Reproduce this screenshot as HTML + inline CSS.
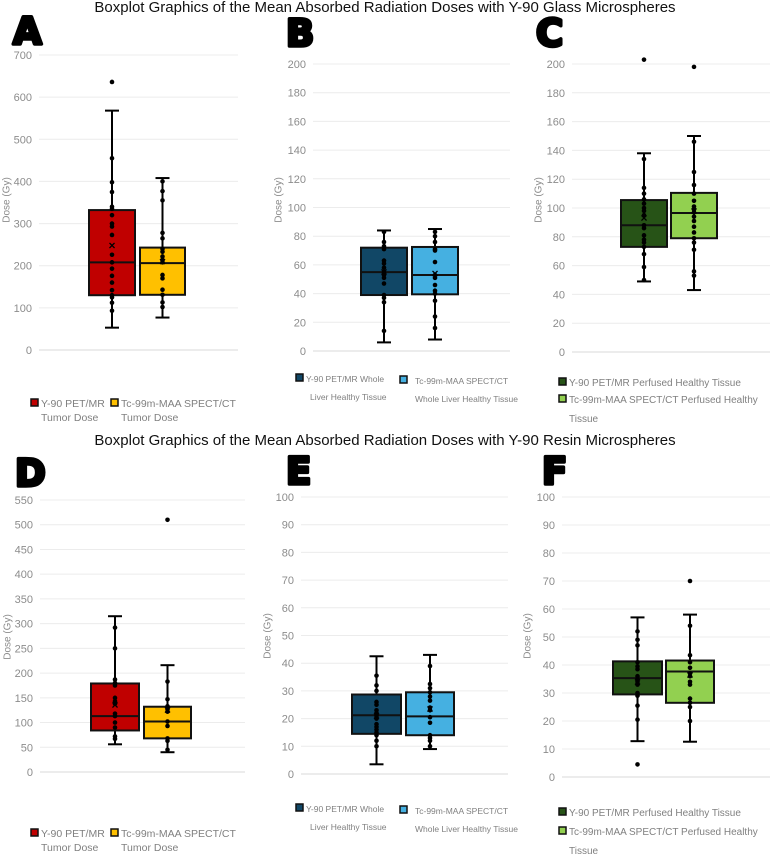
<!DOCTYPE html>
<html><head><meta charset="utf-8"><style>
body{margin:0;background:#fff;width:770px;height:854px;overflow:hidden;font-family:"Liberation Sans",sans-serif}
svg{position:absolute;left:0;top:0}
</style></head><body>
<svg id="fig" width="770" height="854" xmlns="http://www.w3.org/2000/svg">
<text x="385" y="12" text-anchor="middle" font-size="15" fill="#111">Boxplot Graphics of the Mean Absorbed Radiation Doses with Y-90 Glass Microspheres</text>
<text x="385" y="445" text-anchor="middle" font-size="15" fill="#111">Boxplot Graphics of the Mean Absorbed Radiation Doses with Y-90 Resin Microspheres</text>
</svg>
<script>
// ---- data ----
const aRedStats=[53,130,208,332,568]; const aRedMean=[248];
const aRedPts=[93,112,125,130,142,160,176,193,208,226,273,293,300,320,335,340,375,398,455]; const aRedOut=[636];
const aYelStats=[77,131,206,243,408]; const aYelMean=[210];
const aYelPts=[102,113,131,143,170,178,208,213,222,233,240,265,278,355,377,400]; const aYelOut=[];
const bDarkStats=[6,39,55,72,84]; const bDarkMean=[55];
const bDarkPts=[14,34,37,39,47,51,53,55,58,61,63,71,73,76,83]; const bDarkOut=[];
const bLightStats=[8,39.5,53,72.5,85]; const bLightMean=[54];
const bLightPts=[16,24,35,40,42,46,51,53,62,70,71,76,80,83]; const bLightOut=[];
const cDarkStats=[49,73,88,105.5,138]; const cDarkMean=[93];
const cDarkPts=[50,59,68,73,76,78,81,86,88,95,98,100,103,106,110,114,134]; const cDarkOut=[203];
const cLightStats=[43,79,96.5,110.5,150]; const cLightMean=[98];
const cLightPts=[53,56,71,76,79,83,87,91,94,97,99,101,105,110,116,125,146]; const cLightOut=[198];
const dRedStats=[56,84,113,179,315]; const dRedMean=[135];
const dRedPts=[67,72,90,100,113,118,138,143,150,175,180,187,250,292]; const dRedOut=[];
const dYelStats=[40,68,102,132,216]; const dYelMean=[125];
const dYelPts=[45,63,68,93,102,122,127,133,147,183]; const dYelOut=[510];
const eDarkStats=[3.5,14.5,21.2,28.7,42.5]; const eDarkMean=[21];
const eDarkPts=[10,12,14,15,16,17,18,20,21,22,23,25,26,30,32,35.5]; const eDarkOut=[];
const eLightStats=[9,14,20.8,29.5,43]; const eLightMean=[23.5];
const eLightPts=[10,12,13,14,18.5,20.5,23,24,26.5,28,29.5,31,32.5,39]; const eLightOut=[];
const fDarkStats=[12.8,29.5,35.3,41.3,57]; const fDarkMean=[34];
const fDarkPts=[20.5,25.5,29,30,33,34,35,36,38.5,39.5,41,47,49,52]; const fDarkOut=[4.5];
const fLightStats=[12.6,26.5,37.7,41.6,58]; const fLightMean=[36.5];
const fLightPts=[20,25,26.5,28,33,34,36,37,39,41,43.5,54]; const fLightOut=[70];

const NS="http://www.w3.org/2000/svg";
const svg=document.getElementById('fig');
function mk(tag,attrs,parent){const e=document.createElementNS(NS,tag);for(const k in attrs)e.setAttribute(k,attrs[k]);(parent||svg).appendChild(e);return e;}

const panels=[
 {id:'a',letter:'A',lx:12,ly:45,left:39,right:238,y0:350,yTop:55,max:700,step:100,titleX:7,titleY:200,
  boxes:[[89,135,'#C00000',aRedStats,aRedMean,aRedPts,aRedOut],[140,185,'#FFC000',aYelStats,aYelMean,aYelPts,aYelOut]]},
 {id:'b',letter:'B',lx:285,ly:47,left:313,right:510,y0:351,yTop:64,max:200,step:20,titleX:279,titleY:200,
  boxes:[[361,407,'#114766',bDarkStats,bDarkMean,bDarkPts,bDarkOut],[412,458,'#45B0E1',bLightStats,bLightMean,bLightPts,bLightOut]]},
 {id:'c',letter:'C',lx:535,ly:47,left:572,right:770,y0:352,yTop:64,max:200,step:20,titleX:539,titleY:200,
  boxes:[[621,667,'#275317',cDarkStats,cDarkMean,cDarkPts,cDarkOut],[671,717,'#92D050',cLightStats,cLightMean,cLightPts,cLightOut]]},
 {id:'d',letter:'D',lx:14,ly:487,left:40,right:245,y0:772,yTop:500,max:550,step:50,titleX:8,titleY:637,
  boxes:[[91,139,'#C00000',dRedStats,dRedMean,dRedPts,dRedOut],[144,191,'#FFC000',dYelStats,dYelMean,dYelPts,dYelOut]]},
 {id:'e',letter:'E',lx:285,ly:485,left:301,right:508,y0:774,yTop:497,max:100,step:10,titleX:268,titleY:636,
  boxes:[[352,401,'#114766',eDarkStats,eDarkMean,eDarkPts,eDarkOut],[406,454,'#45B0E1',eLightStats,eLightMean,eLightPts,eLightOut]]},
 {id:'f',letter:'F',lx:541,ly:485,left:562,right:770,y0:777,yTop:497,max:100,step:10,titleX:528,titleY:636,
  boxes:[[613,662,'#275317',fDarkStats,fDarkMean,fDarkPts,fDarkOut],[666,714,'#92D050',fLightStats,fLightMean,fLightPts,fLightOut]]}
];

panels.forEach(p=>{
 const g=mk('g',{});
 
 
 const y=v=>p.y0-(v/p.max)*(p.y0-p.yTop);
 const L=mk('text',{x:p.lx+1,y:p.ly-1,'font-size':37,fill:'#000',
   style:'font-family:"DejaVu Sans","Liberation Sans",sans-serif;font-weight:bold','stroke':'#000','stroke-width':3.5,'stroke-linejoin':'round'},g);
 L.textContent=p.letter;
 
 
 for(let v=0;v<=p.max+1e-9;v+=p.step){
  const gl=mk('line',{x1:p.left,x2:p.right,y1:y(v),y2:y(v),stroke:v===0?'#d9d9d9':'#ececec','stroke-width':1},g);
  
  
  const t=mk('text',{x:p.left-7,y:y(v)+4,'text-anchor':'end','font-size':11,fill:'#8c8c8c'},g);
  t.textContent=String(v);
  
  
 }
 const at=mk('text',{x:p.titleX,y:p.titleY,transform:`rotate(-90 ${p.titleX} ${p.titleY})`,'text-anchor':'middle','dominant-baseline':'middle','font-size':10,fill:'#8c8c8c'},g);
 at.textContent='Dose (Gy)';
 
 
 p.boxes.forEach((b,i)=>{
  const [x1,x2,col,st,mean,pts,out]=b; const cx=(x1+x2)/2;
  const bg=mk('g',{},g);
  
  
  mk('line',{x1:cx,x2:cx,y1:y(st[0]),y2:y(st[4]),stroke:'#000','stroke-width':2},bg);
  mk('line',{x1:cx-7,x2:cx+7,y1:y(st[0]),y2:y(st[0]),stroke:'#000','stroke-width':2},bg);
  mk('line',{x1:cx-7,x2:cx+7,y1:y(st[4]),y2:y(st[4]),stroke:'#000','stroke-width':2},bg);
  mk('rect',{x:x1,y:y(st[3]),width:x2-x1,height:y(st[1])-y(st[3]),fill:col,stroke:'#111','stroke-width':2},bg);
  mk('line',{x1:x1,x2:x2,y1:y(st[2]),y2:y(st[2]),stroke:'#111','stroke-width':2},bg);
  pts.concat(out).forEach(v=>{
   const c=mk('circle',{cx:cx,cy:y(v),r:2.3,fill:'#000'},bg);
   
   
  });
  mean.forEach(v=>{
   const m=mk('text',{x:cx,y:y(v)+4,'text-anchor':'middle','font-size':12,'font-weight':'bold',fill:'#000'},bg);
   m.textContent='×';
   
   
  });
 });
});

// legends
const legends=[
 {c:'#C00000',x:30,y:403,lines:['Y-90 PET/MR','Tumor Dose'],fs:10.5,lh:14},
 {c:'#FFC000',x:110,y:403,lines:['Tc-99m-MAA SPECT/CT','Tumor Dose'],fs:10.5,lh:14},
 {c:'#C00000',x:30,y:833,lines:['Y-90 PET/MR','Tumor Dose'],fs:10.5,lh:14},
 {c:'#FFC000',x:110,y:833,lines:['Tc-99m-MAA SPECT/CT','Tumor Dose'],fs:10.5,lh:14},
 {c:'#114766',x:295,y:378,lines:['Y-90 PET/MR Whole','Liver Healthy Tissue'],fs:8.5,lh:18,ind:11,ind2:15},
 {c:'#45B0E1',x:399,y:380,lines:['Tc-99m-MAA SPECT/CT','Whole Liver Healthy Tissue'],fs:8.5,lh:18,ind:16},
 {c:'#114766',x:295,y:808,lines:['Y-90 PET/MR Whole','Liver Healthy Tissue'],fs:8.5,lh:18,ind:11,ind2:15},
 {c:'#45B0E1',x:399,y:810,lines:['Tc-99m-MAA SPECT/CT','Whole Liver Healthy Tissue'],fs:8.5,lh:18,ind:16},
 {c:'#275317',x:558,y:382,lines:['Y-90 PET/MR Perfused Healthy Tissue'],fs:10,lh:16},
 {c:'#92D050',x:558,y:399,lines:['Tc-99m-MAA SPECT/CT Perfused Healthy','Tissue'],fs:10,lh:19},
 {c:'#275317',x:558,y:812,lines:['Y-90 PET/MR Perfused Healthy Tissue'],fs:10,lh:16},
 {c:'#92D050',x:558,y:831,lines:['Tc-99m-MAA SPECT/CT Perfused Healthy','Tissue'],fs:10,lh:19}
];
legends.forEach(l=>{
 const g=mk('g',{});
 
 
 mk('rect',{x:l.x+1,y:l.y-4,width:7,height:7,fill:l.c,stroke:'#111','stroke-width':1.5},g);
 l.lines.forEach((s,i)=>{
  const ind=i===0?(l.ind||11):(l.ind2||l.ind||11);
  const t=mk('text',{x:l.x+ind,y:l.y+4+i*l.lh,'font-size':l.fs,fill:'#808080'},g);
  t.textContent=s;
 });
});
</script>
</body></html>
